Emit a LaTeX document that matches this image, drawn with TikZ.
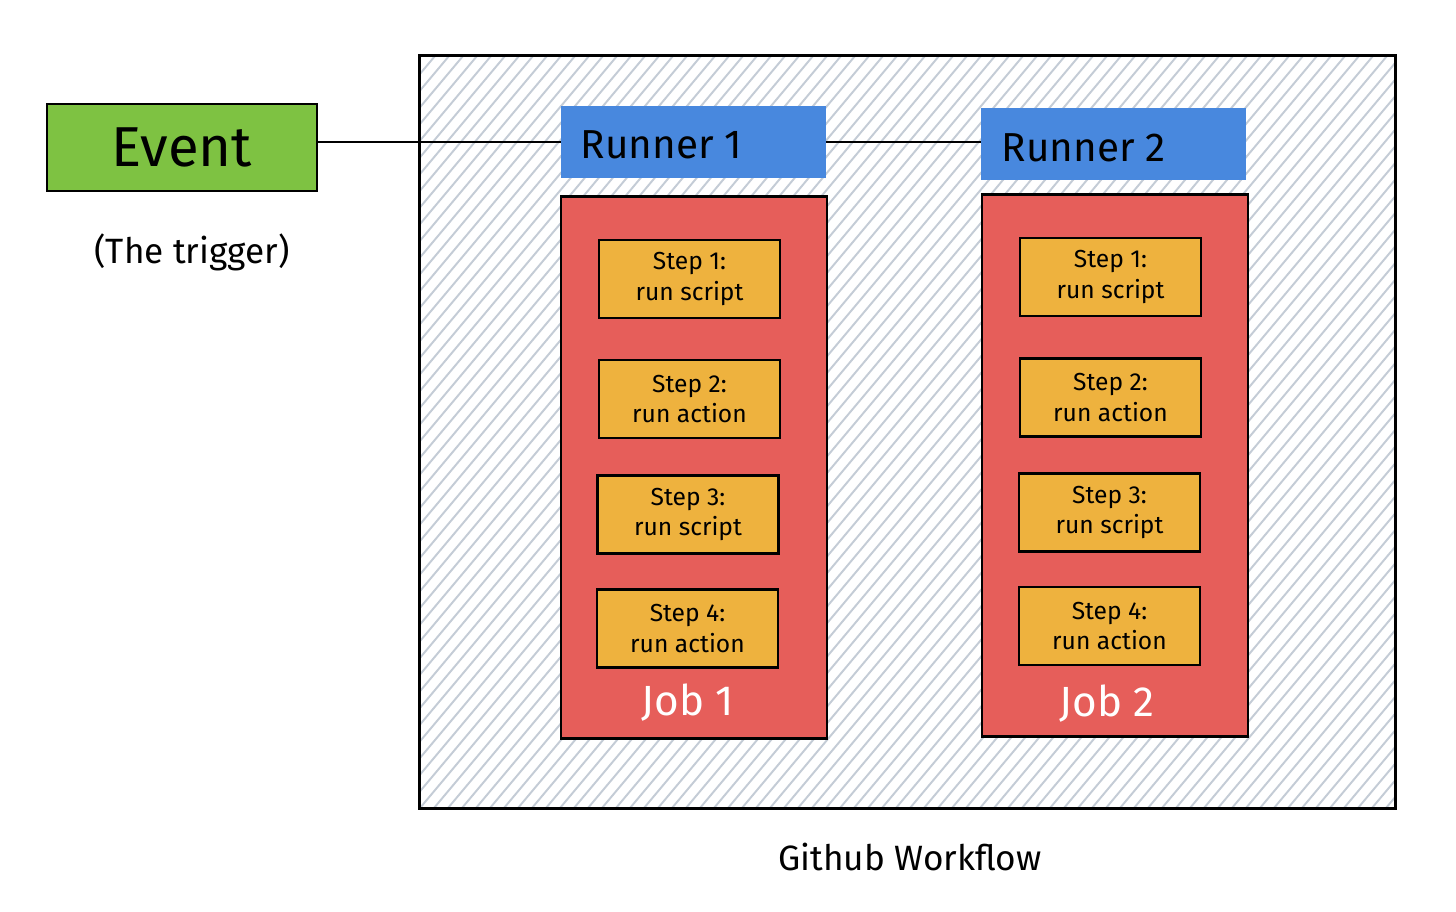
\documentclass[tikz,border=0pt]{standalone}
\usepackage{fontspec}
\setmainfont{Fira Sans}
\usetikzlibrary{positioning}
\definecolor{eventgreen}{RGB}{126,194,66}
\definecolor{runnerblue}{RGB}{72,136,222}
\definecolor{jobred}{RGB}{230,94,90}
\definecolor{steporange}{RGB}{238,178,62}
\definecolor{hatchgray}{RGB}{196,204,214}
\tikzset{
	block/.style={draw, thick},
	runner/.style={fill=runnerblue, minimum width=2.64cm, minimum height=0.72cm},
	jobbox/.style={block, fill=jobred, minimum width=2.66cm, minimum height=5.41cm},
	stepbox/.style={block, fill=steporange, minimum width=1.81cm, minimum height=0.78cm, align=center, font=\fontsize{7}{8.6}\selectfont}
}

\begin{document}
\begin{tikzpicture}[x=0.01cm, y=-0.01cm]
		\useasboundingbox (0,0) rectangle (1456,912);
		
		\node[minimum width=9.75cm, minimum height=7.52cm, fill=white] (workflow) at (907.5,432) {};
		\begin{scope}
			\clip (workflow.south west) rectangle (workflow.north east);
			\foreach \a in {-224,-210,...,1400}
				\draw[hatchgray, line width=0.55pt] (\a,808) -- (\a+631,56);
		\end{scope}
		\node[draw, thick, minimum width=9.75cm, minimum height=7.52cm] at (workflow) {};
		
		\node[block, fill=eventgreen, minimum width=2.7cm, minimum height=0.87cm] (event) at (182,147.5) {};
		\node[align=center, font=\fontsize{16}{19}\selectfont] at (event) {Event};
		\node[align=center, font=\fontsize{10}{12}\selectfont] (trigger) at (192,252) {(The trigger)};
		
		\node[runner] (runnerone) at (693.5,142) {};
		\node[anchor=west, inner sep=0pt, font=\fontsize{11.5}{14}\selectfont] at (580,145) {Runner 1};
		
		\node[runner] (runnertwo) at (1113.5,144) {};
		\node[anchor=west, inner sep=0pt, font=\fontsize{11.5}{14}\selectfont] at (1001,148) {Runner 2};
		
		\node[jobbox] (jobone) at (694,467.5) {};
		\node[stepbox] (stepone) at (689.5,279) {Step 1:\\run script};
		\node[stepbox] (steptwo) at (689.5,399) {Step 2:\\run action};
		\node[stepbox] (stepthree) at (688,514.5) {Step 3:\\run script};
		\node[stepbox] (stepfour) at (687.5,628.5) {Step 4:\\run action};
		\node[white, font=\fontsize{12}{14}\selectfont] at (688,703) {Job 1};
		
		\node[jobbox] (jobtwo) at (1115,465.5) {};
		\node[stepbox] (steponeb) at (1110.5,277) {Step 1:\\run script};
		\node[stepbox] (steptwob) at (1110.5,397.5) {Step 2:\\run action};
		\node[stepbox] (stepthreeb) at (1109.5,512.5) {Step 3:\\run script};
		\node[stepbox] (stepfourb) at (1109.5,626) {Step 4:\\run action};
		\node[white, font=\fontsize{12}{14}\selectfont] at (1107,704) {Job 2};
		
		\node[font=\fontsize{10}{12}\selectfont] (wflabel) at (910,857) {Github Workflow};
		
		\draw[thick] (event.east |- runnerone) -- (runnerone.west);
		\draw[thick] (runnerone.east) -- (runnerone.east -| runnertwo.west);
	\end{tikzpicture}
\end{document}
